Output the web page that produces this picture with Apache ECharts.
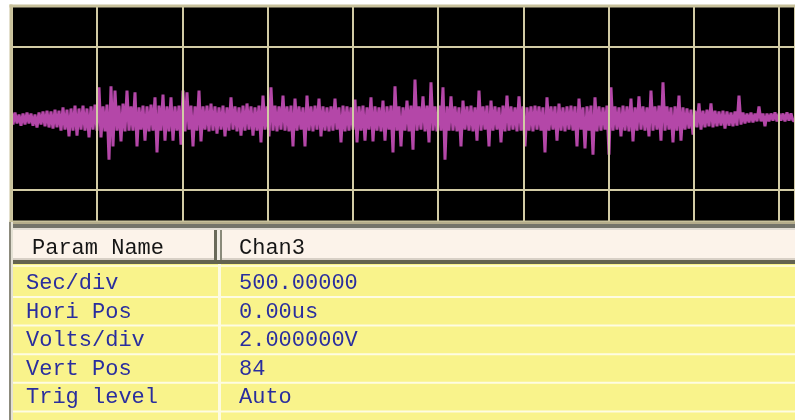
<!DOCTYPE html>
<html>
<head>
<meta charset="utf-8">
<script src="https://cdn.jsdelivr.net/npm/echarts@6/dist/echarts.min.js"></script>
<style>
  html, body { margin: 0; padding: 0; background: #fff; }
  #chart { width: 795px; height: 420px; }
</style>
</head>
<body>
<div id="chart"></div>
<script>
// ---- Data (volts): positive envelope and negative envelope, one pair per sample step ----
const upperV = [
  0.14,0.17,0.11,0.14,0.17,0.14,0.11,0.17,0.20,0.22,
  0.20,0.25,0.22,0.31,0.25,0.28,0.36,0.28,0.36,0.28,
  0.34,0.39,0.87,0.34,0.39,0.90,0.78,0.36,0.42,0.78,
  0.34,0.73,0.31,0.36,0.34,0.39,0.59,0.36,0.67,0.34,
  0.59,0.34,0.36,0.78,0.73,0.36,0.34,0.78,0.34,0.36,
  0.42,0.34,0.31,0.36,0.31,0.59,0.34,0.31,0.36,0.42,
  0.34,0.31,0.36,0.64,0.34,0.87,0.36,0.34,0.64,0.34,
  0.36,0.56,0.34,0.31,0.64,0.34,0.36,0.56,0.34,0.31,
  0.34,0.56,0.31,0.36,0.34,0.31,0.53,0.34,0.36,0.31,
  0.59,0.34,0.31,0.50,0.34,0.36,0.90,0.34,0.31,0.50,
  0.36,1.09,0.34,0.62,0.36,1.01,0.34,0.36,0.87,0.34,
  0.62,0.34,0.31,0.50,0.34,0.36,0.31,0.78,0.34,0.36,
  0.50,0.34,0.31,0.36,0.64,0.34,0.31,0.62,0.34,0.31,
  0.34,0.36,0.34,0.31,0.59,0.34,0.34,0.42,0.31,0.34,
  0.36,0.34,0.56,0.31,0.34,0.36,0.59,0.34,0.31,0.36,
  0.87,0.34,0.31,0.36,0.34,0.56,0.31,0.62,0.34,0.31,
  0.78,0.34,0.36,1.01,0.34,0.31,0.34,0.64,0.31,0.28,
  0.25,0.22,0.42,0.22,0.25,0.42,0.22,0.20,0.22,0.20,
  0.17,0.20,0.64,0.17,0.14,0.17,0.14,0.34,0.14,0.14,
  0.14,0.17,0.14,0.14,0.17,0.14
];
const lowerV = [
  -0.17,-0.14,-0.20,-0.17,-0.14,-0.20,-0.25,-0.17,-0.22,-0.25,
  -0.28,-0.25,-0.34,-0.31,-0.50,-0.34,-0.48,-0.31,-0.34,-0.53,
  -0.31,-0.34,-0.53,-0.36,-1.15,-0.78,-0.34,-0.64,-0.36,-0.34,
  -0.34,-0.78,-0.31,-0.62,-0.36,-0.34,-0.95,-0.34,-0.62,-0.36,
  -0.62,-0.34,-0.73,-0.36,-0.31,-0.78,-0.34,-0.64,-0.31,-0.36,
  -0.34,-0.42,-0.31,-0.50,-0.34,-0.31,-0.36,-0.48,-0.34,-0.31,
  -0.48,-0.34,-0.67,-0.31,-0.50,-0.34,-0.36,-0.31,-0.34,-0.36,
  -0.78,-0.34,-0.31,-0.78,-0.34,-0.36,-0.31,-0.50,-0.34,-0.36,
  -0.34,-0.31,-0.67,-0.36,-0.34,-0.31,-0.67,-0.34,-0.62,-0.31,
  -0.64,-0.34,-0.36,-0.62,-0.31,-0.95,-0.34,-0.78,-0.34,-0.36,
  -0.87,-0.34,-0.31,-0.36,-0.67,-0.34,-0.36,-0.34,-1.15,-0.34,
  -0.34,-0.36,-0.78,-0.31,-0.34,-0.36,-0.62,-0.34,-0.31,-0.78,
  -0.34,-0.31,-0.67,-0.36,-0.34,-0.31,-0.36,-0.34,-0.78,-0.34,
  -0.36,-0.31,-0.34,-0.95,-0.34,-0.31,-0.62,-0.34,-0.36,-0.31,
  -0.34,-0.78,-0.31,-0.84,-0.34,-1.01,-0.36,-0.34,-0.31,-1.01,
  -0.34,-0.31,-0.50,-0.34,-0.36,-0.64,-0.34,-0.31,-0.34,-0.50,
  -0.34,-0.31,-0.62,-0.34,-0.31,-0.67,-0.34,-0.62,-0.31,-0.28,
  -0.45,-0.25,-0.31,-0.25,-0.22,-0.25,-0.22,-0.20,-0.28,-0.20,
  -0.22,-0.20,-0.17,-0.14,-0.11,-0.11,-0.08,-0.08,-0.22,-0.08,
  -0.06,-0.08,-0.06,-0.08,-0.06,-0.06
];
const sampleStepDiv = 4 / 85.25;        // time step between envelope pairs, in divisions
const hGridLevels = [-2, 2];           // horizontal division lines (V)

const headers = ['Param Name', 'Chan3'];
const paramNames = ['Sec/div', 'Hori Pos', 'Volts/div', 'Vert Pos', 'Trig level'];
const paramValues = ['500.00000', '0.00us', '2.000000V', '84', 'Auto'];

// ---- Build the trace ----
const signalData = [];
for (let i = 0; i < upperV.length; i++) {
  signalData.push([i * sampleStepDiv, upperV[i]]);
  signalData.push([(i + 0.5) * sampleStepDiv, lowerV[i]]);
}

// ---- Frame + table graphics ----
const FONT = '22px "Liberation Mono", "DejaVu Sans Mono", monospace';
const BLUE = '#2a2e9e';
const TAN = '#c8c19b';
const g = [];
function rect(x, y, w, h, fill, z) { g.push({ type: 'rect', z: z || 10, shape: { x, y, width: w, height: h }, style: { fill }, silent: true }); }
// scope frame (left / top / bottom)
rect(9.5, 4.5, 790, 3, TAN);
rect(9.5, 4.5, 3, 218, TAN);
rect(9.5, 220.5, 790, 2, TAN);
// table
rect(9, 222, 800, 2, '#b5ad8c');
rect(9, 224, 800, 4, '#74746a');
rect(9, 228, 800, 2, '#e2ddd5');
rect(12, 230, 790, 30, '#fcf3ea');
rect(12, 258, 790, 2, '#d8d0c6');
rect(12, 260, 790, 4, '#63634f');
rect(12, 264, 790, 160, '#f9f38b');
rect(12, 265, 790, 2, '#fdfbd0');
for (let i = 0; i < 5; i++) rect(12, 296 + 28.6 * i, 790, 2, '#fefce2');
// column separators
rect(214, 230, 3, 30, '#6a6a5a');
rect(217, 230, 3, 30, '#f2eee6');
rect(220, 230, 2, 30, '#8a8a7a');
rect(218, 264, 3, 160, '#fdfbe0');
// left border of table
rect(9, 222, 2, 200, '#8c8a7c');
rect(11, 222, 2, 200, '#e4e1d4');

function text(str, x, y, fill) {
  g.push({ type: 'text', z: 11, silent: true, style: { text: str, x, y, fill, font: FONT, verticalAlign: 'middle', align: 'left' } });
}
text(headers[0], 32, 248, '#161616');
text(headers[1], 239, 248, '#161616');
for (let i = 0; i < paramNames.length; i++) {
  const y = 283.5 + 28.4 * i;
  text(paramNames[i], 26, y, BLUE);
  text(paramValues[i], 239, y, BLUE);
}

const chart = echarts.init(document.getElementById('chart'), null, { renderer: 'canvas' });
chart.setOption({
  animation: false,
  backgroundColor: '#ffffff',
  grid: {
    left: 12, top: 6, right: 0, bottom: 198,
    show: true, backgroundColor: '#000000', borderWidth: 0
  },
  xAxis: {
    type: 'value', min: 0, max: 9.185, interval: 1, z: 5,
    axisLine: { show: false }, axisTick: { show: false }, axisLabel: { show: false },
    splitLine: { show: true, lineStyle: { color: '#d2cba5', width: 2 } }
  },
  yAxis: {
    type: 'value', min: -2.895, max: 3.147,
    axisLine: { show: false }, axisTick: { show: false }, axisLabel: { show: false },
    splitLine: { show: false }
  },
  series: [{
    type: 'line',
    data: signalData,
    symbol: 'none',
    step: 'middle',
    lineStyle: { color: '#b447a8', width: 3 },
    markLine: {
      silent: true, symbol: ['none', 'none'], animation: false,
      label: { show: false },
      lineStyle: { color: '#d2cba5', width: 2, type: 'solid' },
      data: hGridLevels.map(v => ({ yAxis: v }))
    }
  }],
  graphic: g
});
</script>
</body>
</html>
